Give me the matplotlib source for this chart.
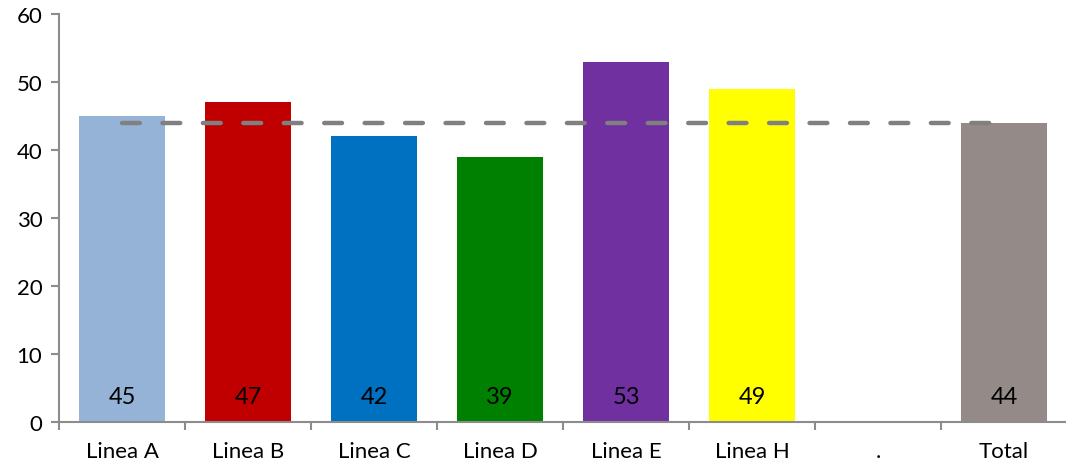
import numpy as np
import matplotlib
matplotlib.use("Agg")
import matplotlib.pyplot as plt

plt.rcParams['font.family'] = ['Lato', 'DejaVu Sans']

categories = ["Linea A", "Linea B", "Linea C", "Linea D", "Linea E", "Linea H", ".", "Total"]
values = [45, 47, 42, 39, 53, 49, None, 44]
bar_colors = ["#95B3D7", "#C00000", "#0070C0", "#008000", "#7030A0", "#FFFF00", "#FFFFFF", "#948B89"]
average = 44
y_ticks = [0, 10, 20, 30, 40, 50, 60]

fig = plt.figure(figsize=(10.66, 4.64), dpi=100)
ax = fig.add_axes([59 / 1066, 1 - 423 / 464, 1008 / 1066, 408 / 464])

x = np.arange(len(categories))
for xi, v, c in zip(x, values, bar_colors):
    if v is None:
        continue
    ax.bar(xi, v, width=0.69, color=c, zorder=2)
    ax.text(xi, 3.7, f"{v}", ha="center", va="center", fontsize=17, color="#000000", zorder=4)

# average reference line across the categories
ax.plot([x[0], x[-1]], [average, average], color="#808080", lw=3.2,
        dashes=(4.0, 5.1), dash_capstyle="round", zorder=3)

ax.set_xlim(-0.5, len(categories) - 0.5)
ax.set_ylim(0, 60)
ax.set_yticks(y_ticks)
ax.set_xticks(x)
ax.set_xticklabels(categories)
ax.set_xticks(np.arange(len(categories)) - 0.5, minor=True)

for side in ("top", "right"):
    ax.spines[side].set_visible(False)
for side in ("left", "bottom"):
    ax.spines[side].set_color("#8C8C8C")
    ax.spines[side].set_linewidth(1.5)

ax.tick_params(axis="y", which="major", direction="out", length=6, width=1.5,
               color="#8C8C8C", labelsize=16, pad=6)
ax.tick_params(axis="x", which="major", length=0, labelsize=16, pad=14)
ax.tick_params(axis="x", which="minor", direction="out", length=6, width=1.5,
               color="#8C8C8C")

fig.savefig("out.png", dpi=100)
